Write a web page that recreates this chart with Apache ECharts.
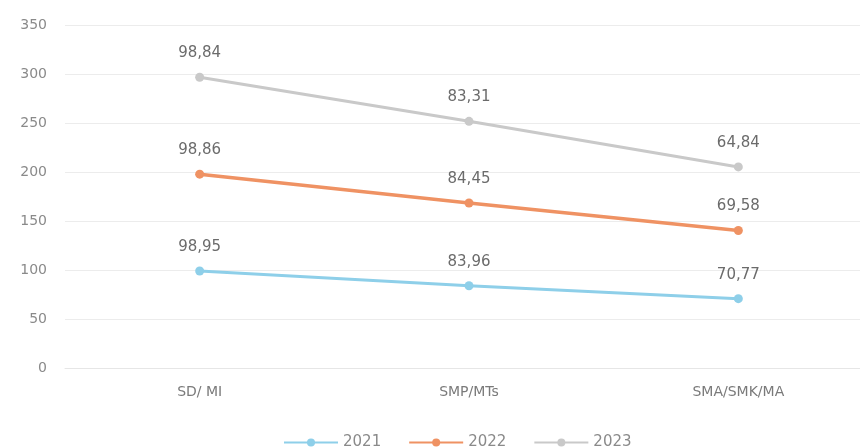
<!DOCTYPE html>
<html>
<head>
<meta charset="utf-8">
<script src="https://cdn.jsdelivr.net/npm/echarts@6/dist/echarts.min.js"></script>
<style>
  html, body { margin: 0; padding: 0; background: #fff; }
  #chart { width: 860px; height: 448px; }
</style>
</head>
<body>
<div id="chart"></div>
<script>
// School levels on the x axis
const categories = ['SD/ MI', 'SMP/MTs', 'SMA/SMK/MA'];
// Yearly values per level (stacked on the chart)
const values2021 = [98.95, 83.96, 70.77];
const values2022 = [98.86, 84.45, 69.58];
const values2023 = [98.84, 83.31, 64.84];
const seriesNames = ['2021', '2022', '2023'];
const yTicks = { min: 0, max: 350, interval: 50 };

const colors = ['#8ecfe9', '#ef9263', '#c9c9c9'];
const font = 'DejaVu Sans';
const fmt = v => String(v.toFixed(2)).replace('.', ',');

function lineSeries(name, data, color, width) {
  return {
    name, type: 'line', stack: 'total', data,
    symbol: 'circle', symbolSize: 9,
    lineStyle: { color, width },
    itemStyle: { color },
    label: {
      show: true, position: 'top', distance: 12,
      color: '#6b6b6b', fontSize: 15, fontFamily: font,
      formatter: p => fmt(p.value)
    }
  };
}

const chart = echarts.init(document.getElementById('chart'));
chart.setOption({
  animation: false,
  grid: { left: 65, width: 808, top: 25, bottom: 80, outerBoundsMode: 'none', containLabel: false },
  legend: {
    top: 430, left: 278, itemWidth: 54, itemHeight: 10, itemGap: 27,
    textStyle: { color: '#8a8a8a', fontSize: 15, fontFamily: font },
    data: seriesNames
  },
  xAxis: {
    type: 'category', data: categories, boundaryGap: true,
    axisLine: { show: true, lineStyle: { color: '#e6e6e6' } },
    axisTick: { show: false },
    axisLabel: { color: '#7a7a7a', fontSize: 14, margin: 17, fontFamily: font }
  },
  yAxis: {
    type: 'value', min: yTicks.min, max: yTicks.max, interval: yTicks.interval,
    axisLine: { show: false }, axisTick: { show: false },
    splitLine: { lineStyle: { color: '#ececec' } },
    axisLabel: { color: '#8a8a8a', fontSize: 14, margin: 18, fontFamily: font }
  },
  series: [
    lineSeries(seriesNames[0], values2021, colors[0], 3),
    lineSeries(seriesNames[1], values2022, colors[1], 3.5),
    lineSeries(seriesNames[2], values2023, colors[2], 3)
  ]
});
</script>
</body>
</html>
